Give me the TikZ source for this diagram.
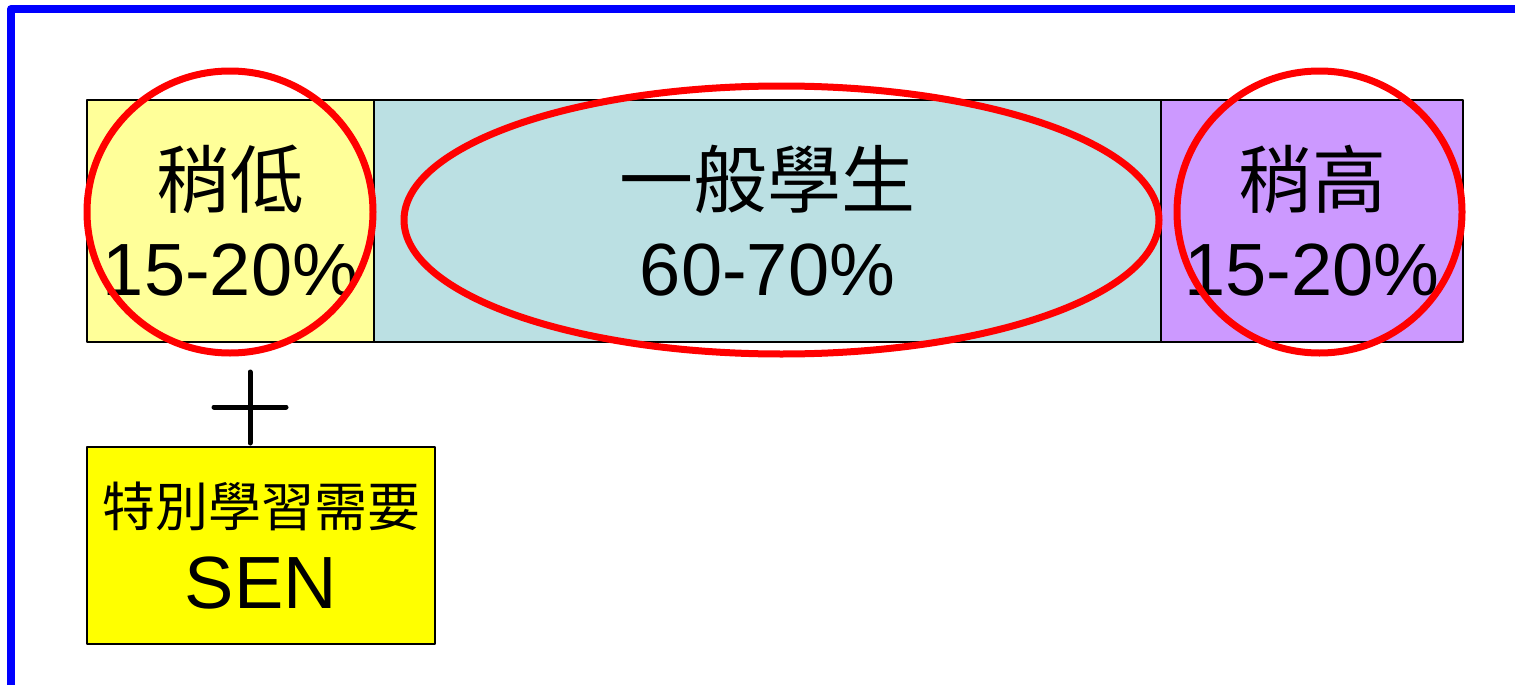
\documentclass[tikz,border=0pt]{standalone}
\usepackage{fontspec}
\setmainfont{Liberation Sans}
\newfontfamily\cjk{Noto Sans CJK TC}
\usetikzlibrary{positioning}
\definecolor{lowfill}{HTML}{FFFF99}
\definecolor{midfill}{HTML}{BBE0E3}
\definecolor{highfill}{HTML}{CC99FF}
\definecolor{senfill}{HTML}{FFFF00}
\tikzset{
	band/.style={draw, line width=1.5pt, inner sep=0pt, outer sep=0pt, minimum height=242pt, align=center, font=\fontsize{74}{88}\selectfont},
	senbox/.style={draw, line width=1.5pt, fill=senfill, inner sep=0pt, outer sep=0pt, minimum width=348pt, minimum height=197pt, align=center, font=\fontsize{74}{82}\selectfont},
	ring/.style={draw=red, line width=7pt}
}

\begin{document}
\begin{tikzpicture}[x=1pt, y=-1pt, line join=round, line cap=round]
	\useasboundingbox (0,0) rectangle (1515,685);
	\clip (0,0) rectangle (1515,685);
	\draw[blue, line width=8pt, line cap=butt] (11,700)--(11,9)--(1530,9);
	\node[band, fill=lowfill, minimum width=287pt, anchor=north west] (low) at (87,100) {{\cjk 稍低}\\15-20\%};
	\node[band, fill=midfill, minimum width=787pt, right=0pt of low] (mid) {{\cjk 一般學生}\\60-70\%};
	\node[band, fill=highfill, minimum width=302pt, right=0pt of mid] (high) {{\cjk 稍高}\\15-20\%};
	\node[senbox, anchor=north west] (sen) at (87,447) {{\cjk\fontsize{53}{82}\selectfont 特別學習需要}\\SEN};
	\draw[ring] (230,212) ellipse [x radius=143pt, y radius=141pt];
	\draw[ring] (781.5,220) ellipse [x radius=377.5pt, y radius=134pt];
	\draw[ring] (1319.5,212) ellipse [x radius=142.5pt, y radius=141pt];
	\draw[line width=5pt] (250,372)--(250,443) (214,407)--(286,407);
\end{tikzpicture}
\end{document}
